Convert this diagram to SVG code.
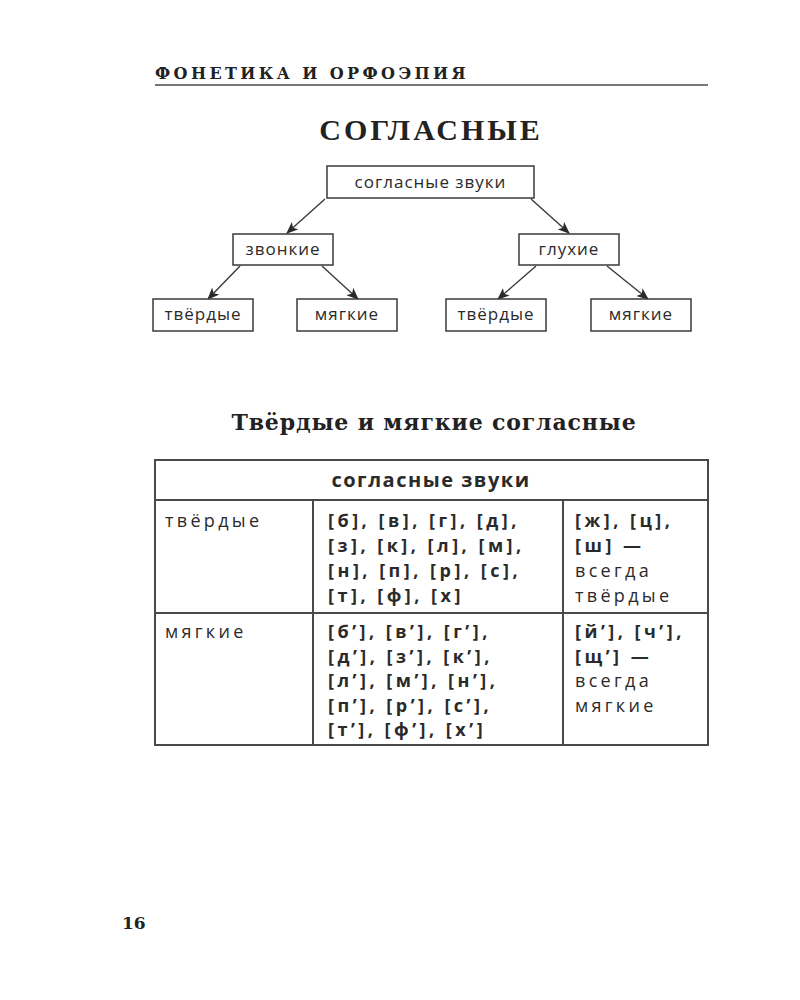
<svg xmlns="http://www.w3.org/2000/svg" width="800" height="1000" viewBox="0 0 800 1000">
<defs>
<style>
.bg{fill:#fff}
.box{fill:#fff;stroke:#3a3a3a;stroke-width:1.5}
.lbl{font-family:"Open Sans","DejaVu Sans",sans-serif;font-size:17px;letter-spacing:1px;fill:#2a2a2a;text-anchor:middle}
.conn{stroke:#3a3a3a;stroke-width:1.4;fill:none;marker-end:url(#ah)}
.tbl{fill:none;stroke:#4a4a4a;stroke-width:2}
.cell{font-family:"Open Sans","DejaVu Sans",sans-serif;font-size:18px;fill:#2a2a2a}
.r{font-weight:normal;letter-spacing:3.3px}
.b{font-weight:bold;letter-spacing:3.5px}
.th{font-family:"Open Sans","DejaVu Sans",sans-serif;font-size:20px;font-weight:bold;letter-spacing:1.5px;fill:#2a2a2a;text-anchor:middle}
.hdr{font-family:"DejaVu Serif","Liberation Serif",serif;font-weight:bold;fill:#222}
</style>
<marker id="ah" viewBox="0 0 12 10" refX="11" refY="5" markerWidth="12" markerHeight="10" markerUnits="userSpaceOnUse" orient="auto">
<path d="M0,0 L12,5 L0,10 L3,5 z" fill="#2a2a2a"/>
</marker>
</defs>
<rect class="bg" x="0" y="0" width="800" height="1000"/>

<g id="page-header">
<text class="hdr" x="155" y="79" font-size="16" letter-spacing="3.4">ФОНЕТИКА И ОРФОЭПИЯ</text>
<line x1="155" y1="85" x2="708" y2="85" stroke="#777" stroke-width="2"/>
</g>

<text id="title" x="431" y="140" font-family="Liberation Serif, serif" font-weight="bold" font-size="30" letter-spacing="3" text-anchor="middle" fill="#222">СОГЛАСНЫЕ</text>

<g id="connectors">
<line class="conn" x1="325" y1="199" x2="287" y2="233"/>
<line class="conn" x1="531" y1="199" x2="569" y2="233"/>
<line class="conn" x1="240" y1="266" x2="208" y2="299"/>
<line class="conn" x1="322" y1="266" x2="358" y2="299"/>
<line class="conn" x1="536" y1="266" x2="498" y2="299"/>
<line class="conn" x1="607" y1="266" x2="648" y2="299"/>
</g>

<g id="n-root"><rect class="box" x="327" y="166" width="207" height="32"/><text class="lbl" x="430.5" y="188">согласные звуки</text></g>
<g id="n-zvonkie"><rect class="box" x="233" y="234" width="100" height="31"/><text class="lbl" x="283" y="255">звонкие</text></g>
<g id="n-gluhie"><rect class="box" x="519" y="234" width="100" height="31"/><text class="lbl" x="569" y="255">глухие</text></g>
<g id="n-tv1"><rect class="box" x="153" y="299" width="100" height="32"/><text class="lbl" x="203" y="320">твёрдые</text></g>
<g id="n-mg1"><rect class="box" x="297" y="299" width="100" height="32"/><text class="lbl" x="347" y="320">мягкие</text></g>
<g id="n-tv2"><rect class="box" x="446" y="299" width="100" height="32"/><text class="lbl" x="496" y="320">твёрдые</text></g>
<g id="n-mg2"><rect class="box" x="591" y="299" width="100" height="32"/><text class="lbl" x="641" y="320">мягкие</text></g>

<text id="subtitle" class="hdr" x="434" y="430" font-size="22" letter-spacing="0.85" text-anchor="middle">Твёрдые и мягкие согласные</text>

<g id="table">
<rect class="tbl" x="155" y="460" width="553" height="285"/>
<line class="tbl" x1="155" y1="500" x2="708" y2="500"/>
<line class="tbl" x1="155" y1="613" x2="708" y2="613"/>
<line class="tbl" x1="313" y1="500" x2="313" y2="745"/>
<line class="tbl" x1="563" y1="500" x2="563" y2="745"/>
<text class="th" x="431" y="487">согласные звуки</text>

<text class="cell r" x="165" y="527">твёрдые</text>
<text class="cell b" x="328" y="527"><tspan x="328" y="527">[б], [в], [г], [д],</tspan><tspan x="328" y="552">[з], [к], [л], [м],</tspan><tspan x="328" y="577">[н], [п], [р], [с],</tspan><tspan x="328" y="602">[т], [ф], [х]</tspan></text>
<text class="cell" x="575" y="527"><tspan class="b" x="575" y="527">[ж], [ц],</tspan><tspan class="b" x="575" y="552">[ш] —</tspan><tspan class="r" x="575" y="577">всегда</tspan><tspan class="r" x="575" y="602">твёрдые</tspan></text>

<text class="cell r" x="165" y="638">мягкие</text>
<text class="cell b" x="328" y="638"><tspan x="328" y="638">[б’], [в’], [г’],</tspan><tspan x="328" y="662.5">[д’], [з’], [к’],</tspan><tspan x="328" y="687">[л’], [м’], [н’],</tspan><tspan x="328" y="711.5">[п’], [р’], [с’],</tspan><tspan x="328" y="736">[т’], [ф’], [х’]</tspan></text>
<text class="cell" x="575" y="638"><tspan class="b" x="575" y="638">[й’], [ч’],</tspan><tspan class="b" x="575" y="662.5">[щ’] —</tspan><tspan class="r" x="575" y="687">всегда</tspan><tspan class="r" x="575" y="711.5">мягкие</tspan></text>
</g>

<text id="page-number" class="hdr" x="122" y="929" font-size="17">16</text>
</svg>
